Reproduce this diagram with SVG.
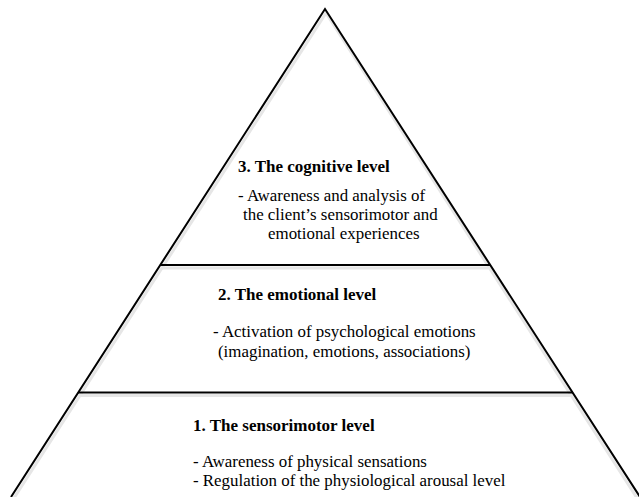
<svg xmlns="http://www.w3.org/2000/svg" width="639" height="497" viewBox="0 0 639 497">
<style>
  .edge { stroke: #000; stroke-width: 2; fill: none; stroke-linejoin: miter; }
  .shadow { stroke: #e6e6e6; stroke-width: 3; fill: none; }
  .title { font-family: "Liberation Serif", "Times New Roman", serif; font-weight: bold; font-size: 17px; fill: #000; }
  .body { font-family: "Liberation Serif", "Times New Roman", serif; font-size: 16.9px; fill: #000; }
</style>
<rect width="639" height="497" fill="#fff"/>
<g id="connectors">
  <path class="shadow" d="M14,498 L326,13 L637,498"/>
  <line class="shadow" x1="162" y1="268" x2="490" y2="268"/>
  <line class="shadow" x1="80" y1="395.5" x2="572" y2="395.5"/>
  <path class="edge" d="M11,497 L325,9 L640,497"/>
  <line class="edge" x1="160" y1="265" x2="490" y2="265"/>
  <line class="edge" x1="78" y1="392.5" x2="573" y2="392.5"/>
</g>
<g id="level3">
  <text class="title" x="238" y="172">3. The cognitive level</text>
  <text class="body" x="238" y="201">- Awareness and analysis of</text>
  <text class="body" x="243" y="220">the client’s sensorimotor and</text>
  <text class="body" x="268" y="239">emotional experiences</text>
</g>
<g id="level2">
  <text class="title" x="218" y="300">2. The emotional level</text>
  <text class="body" x="213" y="337">- Activation of psychological emotions</text>
  <text class="body" x="218" y="357">(imagination, emotions, associations)</text>
</g>
<g id="level1">
  <text class="title" x="193" y="431">1. The sensorimotor level</text>
  <text class="body" x="193" y="467">- Awareness of physical sensations</text>
  <text class="body" x="193" y="486">- Regulation of the physiological arousal level</text>
</g>
</svg>
